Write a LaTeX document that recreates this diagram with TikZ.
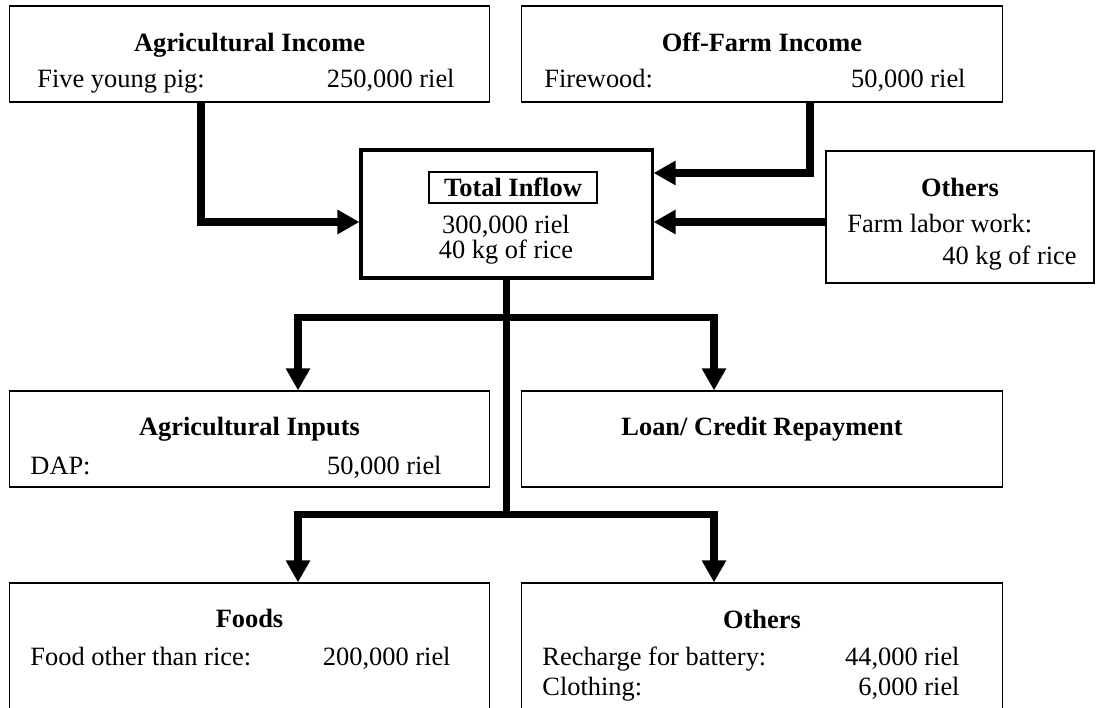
\documentclass[tikz,border=0pt]{standalone}
\usepackage{fontspec}
\setmainfont{Liberation Serif}
\usetikzlibrary{arrows.meta,calc}

\newcommand{\bodyfont}{\fontsize{12}{14}\selectfont}

\begin{document}
\begin{tikzpicture}[
    x=0.4545pt, y=-0.4545pt,
    font=\bodyfont,
    cell/.style={draw, line width=0.6pt, inner sep=0pt, minimum width=218.4pt, minimum height=43.6pt},
    title/.style={anchor=base, inner sep=0pt, font=\bodyfont\bfseries},
    item/.style={anchor=base west, inner sep=0pt},
    amount/.style={anchor=base east, inner sep=0pt},
    flow/.style={line width=3.4pt, line join=miter, -{Triangle[length=10pt, width=10.5pt]}}
]
\useasboundingbox (0,0) rectangle (1097,708);

% inflow boxes
\node[cell] (ainc) at (249.5,54) {};
\node[cell] (ofi) at (762,54) {};
\node[cell, line width=1.4pt, minimum width=132.3pt, minimum height=58.2pt] (tin) at (506.5,214) {};
\node[cell, minimum width=121.8pt, minimum height=60pt] (oin) at (960,217) {};

% outflow boxes
\node[cell] (ainp) at (249.5,439) {};
\node[cell] (loan) at (762,439) {};
\node[cell, minimum height=66.8pt] (food) at (249.5,656.5) {};
\node[cell, minimum height=66.8pt] (oout) at (762,656.5) {};

% texts
\node[title] (ainc-t) at (249.5,52) {Agricultural Income};
\node[item] (ainc-i) at (37,88) {Five young pig:};
\node[amount] (ainc-a) at (455,88) {250,000 riel};

\node[title] (ofi-t) at (762,52) {Off-Farm Income};
\node[item] (ofi-i) at (544,88) {Firewood:};
\node[amount] (ofi-a) at (966,88) {50,000 riel};

\node[draw, line width=0.9pt, minimum width=76.4pt, minimum height=14.1pt, inner sep=0pt, font=\bodyfont\bfseries] (tin-t) at (513,187.5) {Total Inflow};
\node[anchor=base, inner sep=0pt] (tin-a) at (506,234) {300,000 riel};
\node[anchor=base, inner sep=0pt] (tin-b) at (506,259) {40 kg of rice};

\node[title] (oin-t) at (960,197) {Others};
\node[item] (oin-i) at (847,233) {Farm labor work:};
\node[amount] (oin-a) at (1077,265) {40 kg of rice};

\node[title] (ainp-t) at (249.5,436) {Agricultural Inputs};
\node[item] (ainp-i) at (30,474) {DAP:};
\node[amount] (ainp-a) at (442,474) {50,000 riel};

\node[title] (loan-t) at (762,435) {Loan/ Credit Repayment};

\node[title] (food-t) at (249.5,627) {Foods};
\node[item] (food-i) at (30,665) {Food other than rice:};
\node[amount] (food-a) at (451,665) {200,000 riel};

\node[title] (oout-t) at (762,628) {Others};
\node[item] (oout-i) at (542,665) {Recharge for battery:};
\node[amount] (oout-a) at (960,665) {44,000 riel};
\node[item] (oout-j) at (542,695) {Clothing:};
\node[amount] (oout-b) at (960,695) {6,000 riel};

% inflows
\draw[flow] ($(ainc.south)+(-48.5,0)$) |- ($(tin.west)+(0,8)$);
\draw[flow] ($(ofi.south)+(48,0)$) |- ($(tin.east)+(0,-41)$);
\draw[flow] ($(oin.west)+(0,5)$) -- ($(tin.east)+(0,8)$);

% outflows
\draw[flow] (tin.south) |- ($(ainp.north)+(48.5,-73)$) -- ($(ainp.north)+(48.5,0)$);
\draw[flow] (tin.south) |- ($(loan.north)+(-48,-73)$) -- ($(loan.north)+(-48,0)$);
\draw[flow] (tin.south) |- ($(food.north)+(48.5,-68)$) -- ($(food.north)+(48.5,0)$);
\draw[flow] (tin.south) |- ($(oout.north)+(-48,-68)$) -- ($(oout.north)+(-48,0)$);
\end{tikzpicture}
\end{document}
